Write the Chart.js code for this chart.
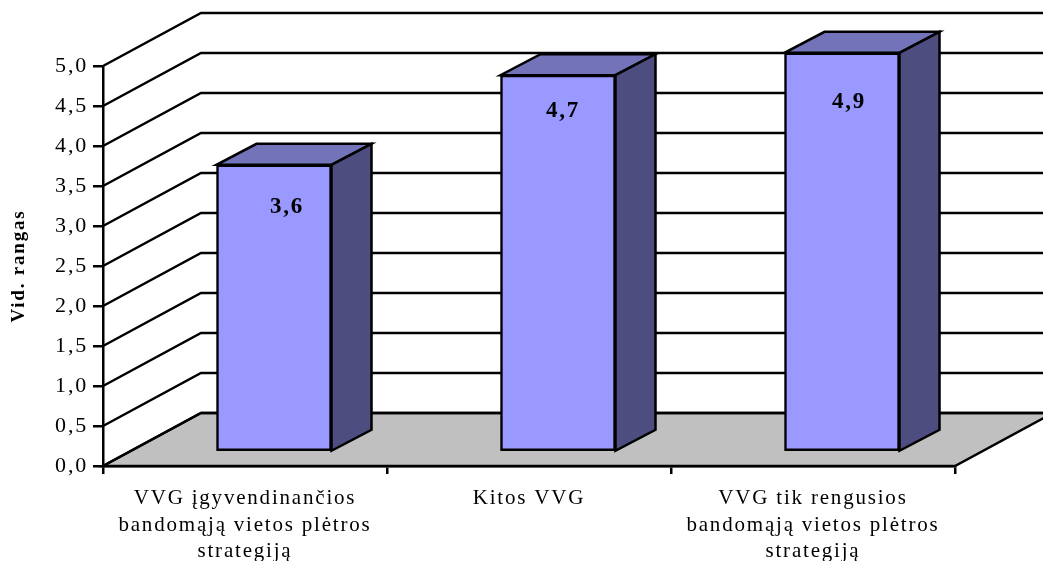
<!DOCTYPE html>
<html>
<head>
<meta charset="utf-8">
<script src="https://cdn.jsdelivr.net/npm/chart.js@4"></script>
<style>
    body { margin: 0; background: #fff; }
    #wrap { width: 1043px; height: 561px; }
</style>
</head>
<body>
<div id="wrap"><canvas id="barChart"></canvas></div>
<script>
const categories = [
    ["VVG įgyvendinančios", "bandomąją vietos plėtros", "strategiją"],
    "Kitos VVG",
    ["VVG tik rengusios", "bandomąją vietos plėtros", "strategiją"],
];
// bar heights, the printed labels don't quite agree with them
const values = [3.59, 4.71, 4.99];
const valueLabels = ["3,6", "4,7", "4,9"];
const yTickLabels = ["0,0", "0,5", "1,0", "1,5", "2,0", "2,5", "3,0", "3,5", "4,0", "4,5", "5,0"];
const yTitle = "Vid. rangas";

// pseudo 3D look
const wallDx = 98;
const wallDy = 53;
const barShiftX = 29;
const barShiftY = 14;
const barDepthX = 40;
const barDepthY = 21;
const labelNudge = [[13, 42], [5, 36], [7, 49]];
const lineW = 2.5;

const serif = "'Liberation Serif', 'Times New Roman', serif";

function polygon(ctx, points, fill) {
    ctx.beginPath();
    points.forEach((p, i) => (i ? ctx.lineTo(p[0], p[1]) : ctx.moveTo(p[0], p[1])));
    ctx.closePath();
    ctx.fillStyle = fill;
    ctx.fill();
    ctx.stroke();
}

const box3d = {
    id: "box3d",
    // floor and back wall go under the axes
    beforeDraw(chart) {
        const { ctx, chartArea, scales } = chart;
        ctx.letterSpacing = "1.8px";
        ctx.save();
        ctx.lineWidth = lineW;
        ctx.strokeStyle = "#000";
        const left = chartArea.left;
        const right = chartArea.right;
        const base = scales.y.getPixelForValue(0);
        polygon(ctx, [
            [left, base],
            [right, base],
            [right + wallDx, base - wallDy],
            [left + wallDx, base - wallDy],
        ], "#c0c0c0");
        scales.y.ticks.forEach((tick) => {
            const y = scales.y.getPixelForValue(tick.value);
            ctx.beginPath();
            ctx.moveTo(left, y);
            ctx.lineTo(left + wallDx, y - wallDy);
            ctx.lineTo(right + wallDx, y - wallDy);
            ctx.stroke();
        });
        ctx.restore();
    },
    // the library bars are only the front faces, moved into the floor
    beforeDatasetsDraw(chart) {
        chart.ctx.save();
        chart.ctx.translate(barShiftX, -barShiftY);
    },
    afterDatasetsDraw(chart) {
        const { ctx } = chart;
        ctx.lineWidth = lineW;
        ctx.strokeStyle = "#000";
        chart.getDatasetMeta(0).data.forEach((bar) => {
            const l = bar.x - bar.width / 2;
            const r = bar.x + bar.width / 2;
            polygon(ctx, [
                [l, bar.y],
                [r, bar.y],
                [r + barDepthX, bar.y - barDepthY],
                [l + barDepthX, bar.y - barDepthY],
            ], "#7373b9");
            polygon(ctx, [
                [r, bar.y],
                [r + barDepthX, bar.y - barDepthY],
                [r + barDepthX, bar.base - barDepthY],
                [r, bar.base],
            ], "#4d4d80");
        });
        ctx.restore();
        ctx.save();
        ctx.font = "bold 23px " + serif;
        ctx.fillStyle = "#000";
        ctx.textAlign = "center";
        ctx.textBaseline = "middle";
        chart.getDatasetMeta(0).data.forEach((bar, i) => {
            ctx.fillText(
                valueLabels[i],
                bar.x + barShiftX + labelNudge[i][0],
                bar.y - barShiftY + labelNudge[i][1]
            );
        });
        ctx.restore();
    },
};

new Chart(document.getElementById("barChart"), {
    type: "bar",
    data: {
        labels: categories,
        datasets: [
            {
                data: values,
                backgroundColor: "#9999ff",
                borderColor: "#000",
                borderWidth: lineW,
                borderSkipped: false,
                barThickness: 115,
                clip: false,
            },
        ],
    },
    options: {
        responsive: true,
        maintainAspectRatio: false,
        animation: false,
        layout: { padding: { top: 66, right: 88, bottom: 0, left: 0 } },
        plugins: {
            legend: { display: false },
            tooltip: { enabled: false },
        },
        scales: {
            x: {
                afterFit(scale) {
                    scale.height = 95;
                },
                border: { color: "#000", width: lineW },
                grid: { drawOnChartArea: false, color: "#000", lineWidth: lineW, tickLength: 8 },
                ticks: {
                    color: "#000",
                    maxRotation: 0,
                    autoSkip: false,
                    padding: 11,
                    font: { family: serif, size: 21, lineHeight: 1.27 },
                },
            },
            y: {
                min: 0,
                max: 5,
                afterFit(scale) {
                    scale.width = 103;
                },
                border: { color: "#000", width: lineW },
                grid: { drawOnChartArea: false, color: "#000", lineWidth: lineW, tickLength: 10 },
                title: {
                    display: true,
                    text: yTitle,
                    color: "#000",
                    font: { family: serif, size: 19, weight: "bold" },
                    padding: { top: 8, bottom: 0 },
                },
                ticks: {
                    stepSize: 0.5,
                    color: "#000",
                    padding: 5,
                    font: { family: serif, size: 22 },
                    callback: (value, i) => yTickLabels[i],
                },
            },
        },
    },
    plugins: [box3d],
});
</script>
</body>
</html>
